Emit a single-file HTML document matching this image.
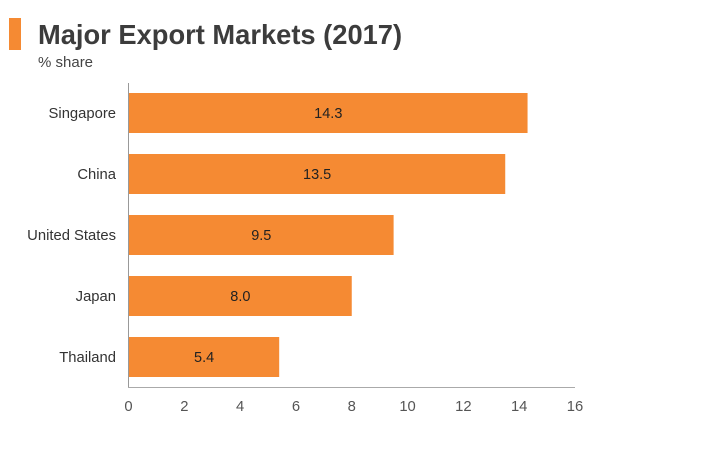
<!DOCTYPE html>
<html><head><meta charset="utf-8"><style>
body{margin:0;width:702px;height:451px;background:#fff;font-family:"Liberation Sans",Arial,sans-serif;overflow:hidden}
</style></head><body>
<svg width="702" height="451" id="c">
<rect x="9" y="18" width="12" height="32" fill="#f58a33"/>
<text x="38" y="44" font-size="27.3" font-weight="bold" fill="#3c3c3c">Major Export Markets (2017)</text>
<text x="38" y="67" font-size="15" fill="#444">% share</text>
<line x1="128.5" y1="83" x2="128.5" y2="387" stroke="#999"/>
<line x1="128" y1="387.5" x2="575" y2="387.5" stroke="#aaa"/>
<g id="bars"></g>
</svg>
<script>
const categories=["Singapore","China","United States","Japan","Thailand"];
const values=[14.3,13.5,9.5,8.0,5.4];
const ticks=[0,2,4,6,8,10,12,14,16];
const svg=document.getElementById('c');const g=document.getElementById('bars');
const NS="http://www.w3.org/2000/svg";
const x=v=>128.5+v*(575-128.5)/16;
const y=i=>93+i*61;
function mk(t,a){const e=document.createElementNS(NS,t);for(const k in a)e.setAttribute(k,a[k]);return e;}
categories.forEach((c,i)=>{
 const r=mk('rect',{x:129,y:y(i),width:x(values[i])-129,height:40,fill:'#f58a33'});
 
 
 g.appendChild(r);
 const v=mk('text',{x:(129+x(values[i]))/2,y:y(i)+25,'font-size':14.5,fill:'#222','text-anchor':'middle'});
 v.textContent=values[i].toFixed(1);
 
 
 g.appendChild(v);
 const l=mk('text',{x:116,y:y(i)+25,'font-size':14.8,fill:'#333','text-anchor':'end'});
 l.textContent=c;
 
 
 g.appendChild(l);
});
ticks.forEach(t=>{
 const e=mk('text',{x:x(t),y:411,'font-size':14.8,fill:'#555','text-anchor':'middle'});
 e.textContent=t;
 
 
 g.appendChild(e);
});
</script>
</body></html>
